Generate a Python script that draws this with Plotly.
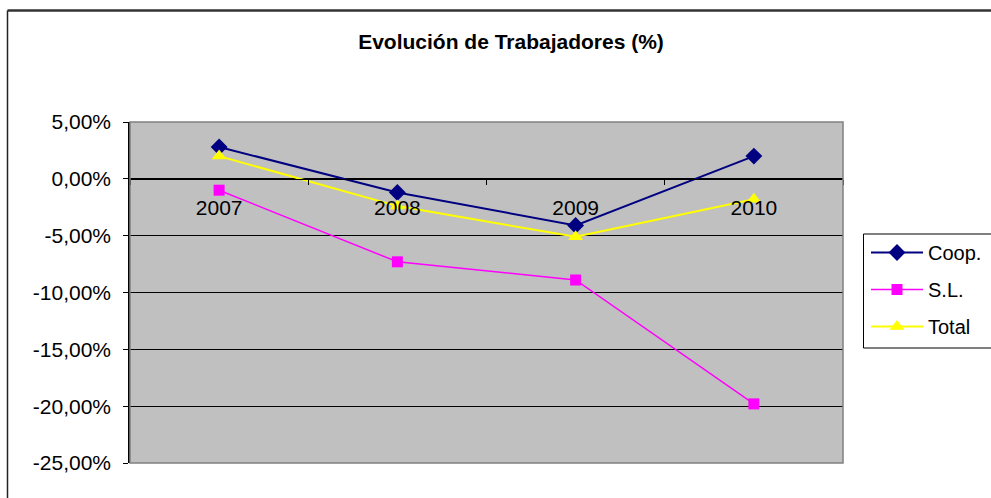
import plotly.graph_objects as go

years = ["2007", "2008", "2009", "2010"]
coop = [2.8, -1.2, -4.1, 2.0]
sl = [-1.0, -7.3, -8.9, -19.8]
total = [2.0, -2.4, -5.1, -1.8]
y_ticks = [-25, -20, -15, -10, -5, 0, 5]
y_ticktext = ["-25,00%", "-20,00%", "-15,00%", "-10,00%", "-5,00%", "0,00%", "5,00%"]

W, H = 991, 498
FONT = "Liberation Sans, Arial, sans-serif"

# plot area in pixels
px_l, px_r, px_t, px_b = 130, 843, 122, 463
xd = [px_l / W, px_r / W]
yd = [1 - px_b / H, 1 - px_t / H]
ymin, ymax = -25, 5
zero_pos = yd[0] + (yd[1] - yd[0]) * (0 - ymin) / (ymax - ymin)

fig = go.Figure()
fig.add_trace(go.Scatter(x=years, y=coop, name="Coop.", mode="lines+markers",
                         line=dict(color="#000080", width=2),
                         marker=dict(symbol="diamond", size=13, color="#000080"),
                         legendgroup="a"))
fig.add_trace(go.Scatter(x=years, y=sl, name="S.L.", mode="lines+markers",
                         line=dict(color="#FF00FF", width=1.5),
                         marker=dict(symbol="square", size=11, color="#FF00FF"),
                         legendgroup="b"))
fig.add_trace(go.Scatter(x=years, y=total, name="Total", mode="lines+markers",
                         line=dict(color="#FFFF00", width=2),
                         marker=dict(symbol="triangle-up", size=13, color="#FFFF00"),
                         legendgroup="c"))

fig.update_layout(
    width=W, height=H,
    margin=dict(l=0, r=0, t=0, b=0, autoexpand=False),
    paper_bgcolor="white",
    plot_bgcolor="#C0C0C0",
    font=dict(family=FONT, size=20, color="black"),
    title=dict(text="<b>Evolución de Trabajadores (%)</b>", x=511 / W, y=1 - 42 / H,
               xanchor="center", yanchor="middle", xref="paper", yref="paper",
               automargin=False,
               font=dict(family=FONT, size=21, color="black")),
    xaxis=dict(type="category", categoryorder="array", categoryarray=years,
               range=[-0.5, 3.5], domain=xd, anchor="free", position=zero_pos,
               showline=True, linecolor="black", linewidth=1,
               ticks="outside", tickson="boundaries", ticklen=5, tickcolor="black",
               showgrid=False, ticklabelstandoff=10, automargin=False,
               tickfont=dict(family=FONT, size=21, color="black")),
    yaxis=dict(range=[ymin, ymax], domain=yd, tickvals=y_ticks, ticktext=y_ticktext,
               showline=True, linecolor="black", linewidth=1.5,
               ticks="outside", ticklen=5, tickcolor="black",
               showgrid=True, gridcolor="black", gridwidth=1, zeroline=False,
               ticklabelstandoff=8, automargin=False,
               tickfont=dict(family=FONT, size=21, color="black")),
    legend=dict(x=866 / W, y=1 - 233 / H, xanchor="left", yanchor="top",
                bgcolor="rgba(0,0,0,0)", borderwidth=0,
                traceorder="grouped", tracegroupgap=8, itemwidth=52,
                font=dict(family=FONT, size=20, color="black")),
    showlegend=True,
    shapes=[
        # outer chart frame (top and left edges visible)
        dict(type="line", xref="paper", yref="paper",
             x0=7.5 / W, x1=1.0, y0=1 - 10.5 / H, y1=1 - 10.5 / H,
             line=dict(color="#333333", width=2.5), layer="above"),
        dict(type="line", xref="paper", yref="paper",
             x0=7.5 / W, x1=7.5 / W, y0=0.0, y1=1 - 10.5 / H,
             line=dict(color="#222222", width=1.5), layer="above"),
        # plot area frame
        dict(type="rect", xref="paper", yref="paper",
             x0=xd[0], x1=xd[1], y0=yd[0], y1=yd[1],
             line=dict(color="#808080", width=1.5), layer="above"),
        # legend frame
        dict(type="rect", xref="paper", yref="paper",
             x0=863.5 / W, x1=1.1, y0=1 - 348 / H, y1=1 - 234 / H,
             line=dict(color="black", width=1), layer="above"),
    ],
)

fig.write_html("out.html", config={"displayModeBar": False},
               post_script="document.body.style.margin='0';")
